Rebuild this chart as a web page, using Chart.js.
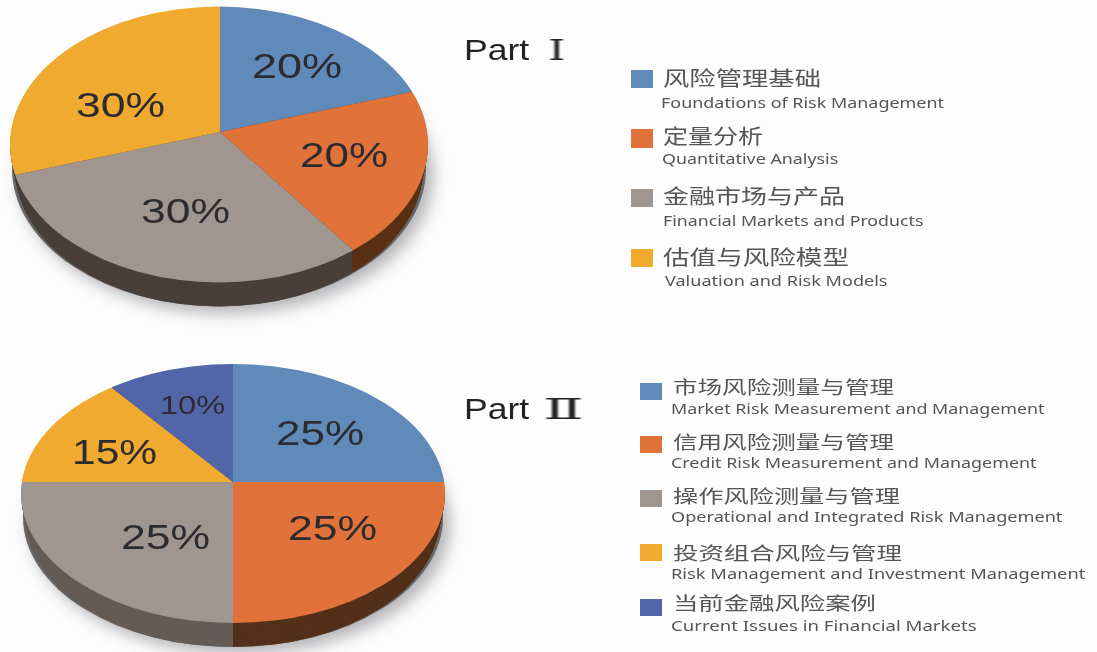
<!DOCTYPE html>
<html><head><meta charset="utf-8">
<script src="https://cdn.jsdelivr.net/npm/chart.js@4"></script>
<style>
html,body{margin:0;padding:0;width:1097px;height:652px;overflow:hidden;background:#fdfdfd}
canvas{position:absolute}
#txt{position:absolute;left:0;top:0;width:1097px;height:652px;z-index:5}
.t{position:absolute;white-space:pre;line-height:1;transform-origin:0 50%;filter:blur(.5px)}
.s{position:absolute;filter:blur(.4px)}
</style></head><body>
<canvas id="p1"></canvas><canvas id="p2"></canvas>
<div id="txt"></div>
<script>
// ---- data ----
const part1Values = [20, 20, 30, 30];
const part2Values = [25, 25, 25, 15, 10];
const part1Cn = ['风险管理基础','定量分析','金融市场与产品','估值与风险模型'];
const part1En = ['Foundations of Risk Management','Quantitative Analysis','Financial Markets and Products','Valuation and Risk Models'];
const part2Cn = ['市场风险测量与管理','信用风险测量与管理','操作风险测量与管理','投资组合风险与管理','当前金融风险案例'];
const part2En = ['Market Risk Measurement and Management','Credit Risk Measurement and Management','Operational and Integrated Risk Management','Risk Management and Investment Management','Current Issues in Financial Markets'];
const titleWord = 'Part';
const part1Numeral = 'Ⅰ';
const part2Numeral = 'Ⅱ';

// ---- styles ----
const blue='#5f8ab9', orange='#e0723a', gray='#a0958f', yellow='#f0aa30', navy='#5265a9';
const part1Colors=[blue,orange,gray,yellow];
const part2Colors=[blue,orange,gray,yellow,navy];
const part1Side=['#4a3f3a','#5a3115','#4a3f3a','#4a3f3a'];
const part2Side=['#665b56','#54301a','#665b56','#665b56','#665b56'];

function pie3d(id, values, colors, sides, g){
  const size=g.r*2, cv=document.getElementById(id);
  cv.style.left=(g.ax-g.r)+'px'; cv.style.top=(g.ay-g.r)+'px';
  cv.width=size; cv.height=size; cv.style.width=size+'px'; cv.style.height=size+'px';
  const ox=g.ax-g.r, oy=g.ay-g.r;
  const rim=(ctx,dy,grow)=>{ctx.beginPath();ctx.ellipse(g.ex-ox,g.ey-oy+dy,g.rx-(grow||0),g.ry,0,0,Math.PI*2);};
  const squash=(ctx)=>{ctx.translate(g.r,g.r);ctx.scale(1,g.k);ctx.translate(-g.r,-g.r);};
  const plugin={id:'tilt',
    beforeDatasetsDraw(chart){
      const ctx=chart.ctx, arcs=chart.getDatasetMeta(0).data;
      // drop shadow
      ctx.save();
      ctx.shadowColor='rgba(60,60,70,.38)';ctx.shadowBlur=16;ctx.shadowOffsetX=7;ctx.shadowOffsetY=7;
      ctx.fillStyle='#666';rim(ctx,g.depth,2);ctx.fill();
      ctx.restore();
      // side wall
      for(let d=g.depth;d>=1;d--){
        ctx.save();
        ctx.translate(0,d);
        rim(ctx,0,d*g.narrow);ctx.clip();
        squash(ctx);
        arcs.forEach((a,i)=>{
          const o=a.options, n=Object.create(o);
          n.backgroundColor=sides[i];n.borderColor=sides[i];
          a.options=n;a.draw(ctx);a.options=o;
        });
        ctx.restore();
      }
      // top face
      ctx.save();
      rim(ctx,0);ctx.clip();
      squash(ctx);
    },
    afterDatasetsDraw(chart){chart.ctx.restore();}
  };
  return new Chart(cv,{type:'pie',
    data:{labels:values.map(String),datasets:[{data:values,backgroundColor:colors,borderWidth:0,clip:false}]},
    options:{responsive:false,animation:false,devicePixelRatio:1,layout:{padding:0},
      plugins:{legend:{display:false},tooltip:{enabled:false}}},
    plugins:[plugin]});
}
pie3d('p1',part1Values,part1Colors,part1Side,{ax:220,ay:132,ex:219,ey:144.5,rx:209,ry:138,k:.645,r:240,depth:24,narrow:.22});
pie3d('p2',part2Values,part2Colors,part2Side,{ax:233,ay:482,ex:233,ey:493.5,rx:212,ry:129.5,k:.565,r:262,depth:24,narrow:.22});

// ---- text ----
const box=document.getElementById('txt');
function put(text,x0,x1,yc,size,font,color,weight){
  const e=document.createElement('div');e.className='t';e.textContent=text;
  e.style.cssText+=`font:${weight||400} ${size}px ${font};color:${color};left:${x0}px;`;
  box.appendChild(e);
  const w=e.offsetWidth,h=e.offsetHeight;
  e.style.top=(yc-h/2)+'px';
  e.style.transform=`scaleX(${(x1-x0)/w})`;
}
function swatch(x0,x1,y0,y1,c){
  const e=document.createElement('div');e.className='s';
  e.style.cssText+=`left:${x0}px;top:${y0}px;width:${x1-x0}px;height:${y1-y0}px;background:${c}`;
  box.appendChild(e);
}
const SANS='"Liberation Sans",sans-serif', SERIF='"DejaVu Serif","Liberation Serif",serif', CJK='"Noto Sans CJK SC",sans-serif', EN='"Noto Sans",sans-serif';
const pctInk='#2b2b30';
// percent labels
[[252,342,66],[300,388,155],[141,230,211],[76,165,105]].forEach((p,i)=>put(part1Values[i]+'%',p[0],p[1],p[2],35,SANS,pctInk));
[[276,364,433],[288,377,528],[121,210,537],[72,157,452],[160,225,405]].forEach((p,i)=>put(part2Values[i]+'%',p[0],p[1],p[2],i==4?26:35,SANS,pctInk));
// titles
put(titleWord,464,529,50,29,SANS,'#222');
put(part1Numeral,548,566,50,27,SERIF,'#222');
put(titleWord,464,529,409,29,SANS,'#222');
put(part2Numeral,543,583,409,27,SERIF,'#222');
// legends
[[70,88,663,821,77.5,661,944,102],[129,148,663,763,135.5,662,838,158],[189,207,663,845,195.5,663,924,220],[249,267,663,849,256.5,665,887,280]].forEach((r,i)=>{
  swatch(631,653,r[0],r[1],part1Colors[i]);
  put(part1Cn[i],r[2],r[3],r[4],20,CJK,'#555');
  put(part1En[i],r[5],r[6],r[7],14,EN,'#555');
});
[[383,400,673,894,385.5,671,1045,409],[436,453,673,894,440.5,671,1037,463],[490,507,673,900,494.5,671,1063,517],[544,561,673,902,551.5,671,1085,574],[599,616,673,876,601.5,671,977,626]].forEach((r,i)=>{
  swatch(640,662,r[0],r[1],part2Colors[i]);
  put(part2Cn[i],r[2],r[3],r[4],18,CJK,'#555');
  put(part2En[i],r[5],r[6],r[7],13.5,EN,'#555');
});
</script>
</body></html>
